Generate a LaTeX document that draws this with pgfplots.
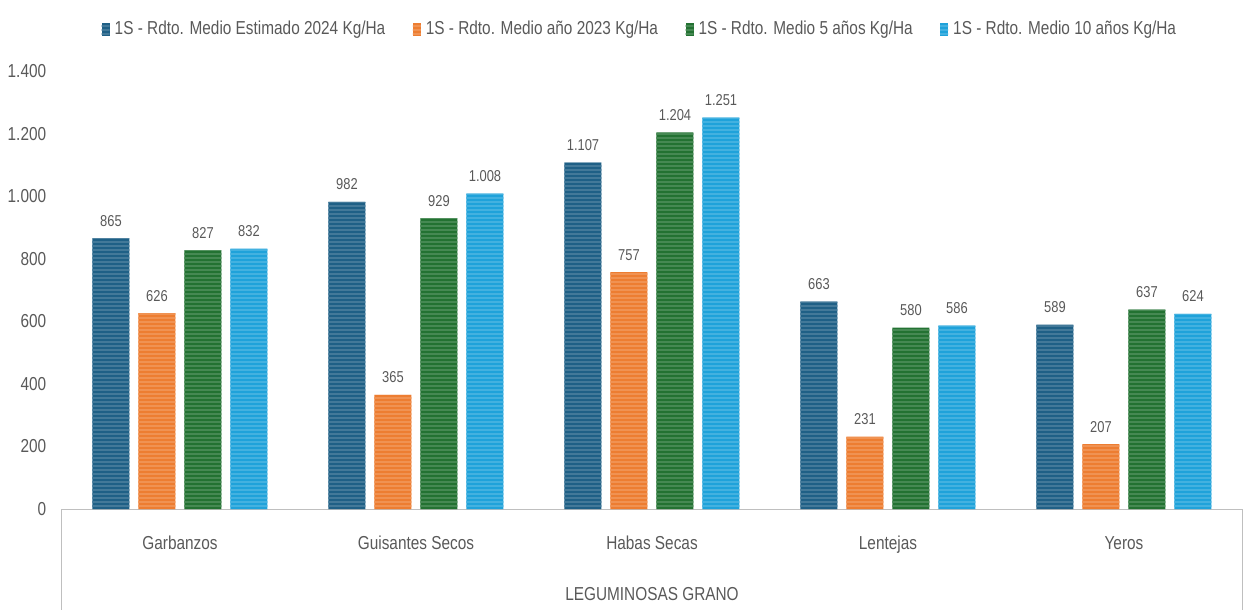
\documentclass[border=0pt]{standalone}
\usepackage{fontspec}
\setmainfont{Liberation Sans}[FakeStretch=0.82]
\usepackage{pgfplots}
\pgfplotsset{compat=1.18}
\usetikzlibrary{patterns.meta}

\definecolor{cA}{HTML}{1F6086}
\definecolor{cB}{HTML}{ED7D31}
\definecolor{cC}{HTML}{237232}
\definecolor{cD}{HTML}{1FA2DA}
\definecolor{txt}{HTML}{595959}
\definecolor{lin}{HTML}{BFBFBF}

\pgfplotsset{
  stripes/.style={fill=#1, draw=none,
    postaction={pattern={Lines[angle=0,distance=1.6pt,line width=0.7pt]}, pattern color=#1!84!white}},
}

\begin{document}
\begin{tikzpicture}
\useasboundingbox (-24.8pt,-40.4pt) rectangle (473.2pt,203.6pt);
\begin{axis}[
  at={(0,0)}, anchor=south west,
  scale only axis, width=472pt, height=175.2pt,
  ybar=3.6pt, bar width=14.8pt,
  xmin=-0.5, xmax=4.5, ymin=0, ymax=1400,
  enlargelimits=false,
  xtick=data,
  xticklabels={Garbanzos, Guisantes Secos, Habas Secas, Lentejas, Yeros},
  ytick={0,200,...,1400},
  scaled y ticks=false,
  axis x line=bottom, axis y line=left,
  axis line style={draw=lin, -},
  y axis line style={draw=none},
  major tick length=0pt,
  tick label style={font=\fontsize{7.5}{9}\selectfont, text=txt},
  xticklabel style={anchor=base, yshift=-16pt},
  yticklabel style={xshift=-2.8pt},
  /pgf/number format/1000 sep={.},
  /pgf/number format/assume math mode=true,
  nodes near coords={\pgfmathprintnumber{\pgfplotspointmeta}},
  every node near coord/.append style={font=\fontsize{6.3}{7.5}\selectfont, text=txt, yshift=1.2pt},
  xlabel={LEGUMINOSAS GRANO},
  xlabel style={at={(axis description cs:0.5,0)}, anchor=base, yshift=-36.4pt,
    font=\fontsize{7.5}{9}\selectfont, text=txt},
  legend columns=4,
  legend style={at={(0.491,1.094)}, anchor=center, draw=none, fill=none,
    font=\fontsize{7.5}{9}\selectfont, text=txt,
    /tikz/every even column/.append style={column sep=9pt}},
  legend image code/.code={\path[#1] (0pt,-2.6pt) rectangle (3.2pt,2.6pt);},
]
\addplot[stripes=cA] coordinates {(0,865) (1,982) (2,1107) (3,663) (4,589)};
\addplot[stripes=cB] coordinates {(0,626) (1,365) (2,757) (3,231) (4,207)};
\addplot[stripes=cC] coordinates {(0,827) (1,929) (2,1204) (3,580) (4,637)};
\addplot[stripes=cD] coordinates {(0,832) (1,1008) (2,1251) (3,586) (4,624)};
\legend{1S - Rdto. Medio Estimado 2024 Kg/Ha, 1S - Rdto. Medio año 2023 Kg/Ha,
  1S - Rdto. Medio 5 años Kg/Ha, 1S - Rdto. Medio 10 años Kg/Ha}
\end{axis}
\draw[lin] (0,0) -- (0,-40.4pt);
\draw[lin] (472pt,0) -- (472pt,-40.4pt);
\end{tikzpicture}
\end{document}
